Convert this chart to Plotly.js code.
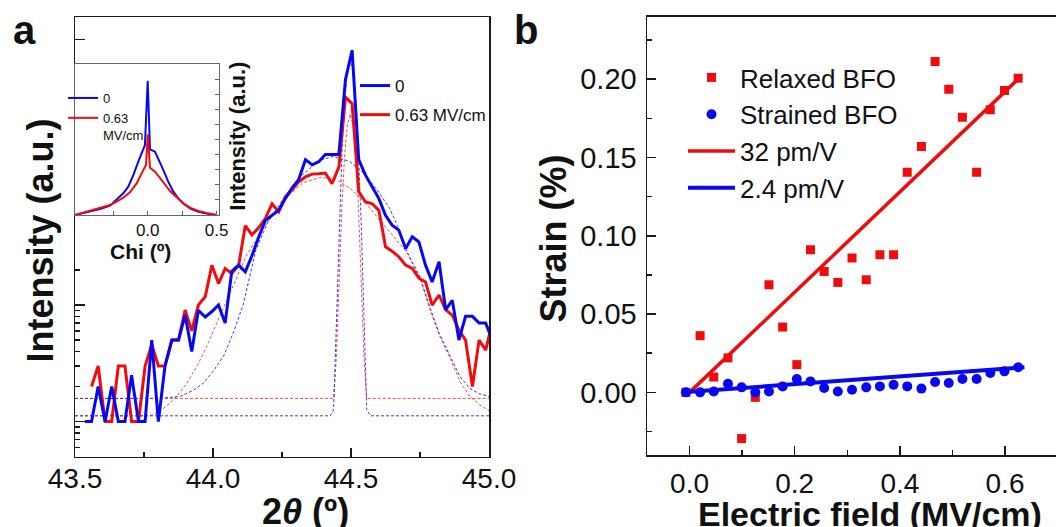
<!DOCTYPE html>
<html>
<head>
<meta charset="utf-8">
<script src="https://cdn.plot.ly/plotly-3.0.1.min.js"></script>
<style>html,body{margin:0;padding:0;background:#fff;}#chart{width:1056px;height:527px;}</style>
</head>
<body>
<div id="chart"></div>
<script>
// ---------- Panel a: 2theta scans (intensity, a.u.) ----------
const twoTheta = [43.536,43.560,43.584,43.609,43.633,43.657,43.681,43.705,43.730,43.754,43.778,43.802,43.826,43.851,43.875,43.899,43.923,43.947,43.972,43.996,44.020,44.044,44.068,44.093,44.117,44.141,44.165,44.189,44.214,44.238,44.262,44.286,44.310,44.335,44.359,44.383,44.407,44.431,44.456,44.480,44.504,44.528,44.552,44.577,44.601,44.625,44.649,44.673,44.698,44.722,44.746,44.770,44.794,44.819,44.843,44.867,44.891,44.915,44.940,44.964,44.988,45.012];
const int0 = [1,1,2,1,2,1,1,2.5,1,1,5,1,3,5,5,8.2,4,9,7.9,8.8,10,7,19.5,22,19.3,26.5,38,53,59,65,82,101,119,177,160,170,196,196,196,865,1540,177,131,103,82,59,48.5,44,30.6,38.5,34.8,22,15.8,23.5,9.1,11,5,8,8,7,7,5];
const int063 = [null,2,3,1,1,3,3,1,1,3,4.6,3,3,5,5,9.06,6,10,11.8,22,15.3,20.6,18.7,22,48,40,46,55,74,63,85,97,114,126,133,134,136,110,153,609,535,94,77,74,65,31.6,29,26,22,20.6,17,15.8,10,12.2,9.1,8.2,6.1,5,2,5,4.1,7];
// fitted components (dashed)
const fitBroad0X = [43.50,43.80,43.88,43.93,43.965,44.00,44.04,44.075,44.11,44.155,44.20,44.265,44.325,44.385,44.435,44.495,44.545,44.595,44.64,44.67,44.70,44.75,44.785,44.82,44.86,44.895,44.93,44.965,45.00];
const fitBroad0Y = [1.58,1.58,1.64,1.86,2.14,2.69,3.72,5.89,10.2,29.5,52.5,88.1,132,174,189,171,136,97.3,67.6,46.9,29.6,17.5,9.68,5.71,3.61,2.43,1.93,1.73,1.64];
const fitBroad063X = [43.50,43.77,43.796,43.832,43.868,43.905,43.941,43.977,44.013,44.05,44.086,44.122,44.19,44.264,44.325,44.386,44.44,44.495,44.544,44.58,44.63,44.67,44.70,44.75,44.785,44.82,44.86,44.895,44.931,44.967,45.00];
const fitBroad063Y = [1.12,1.12,1.18,1.36,1.64,2.13,2.96,4.40,6.97,11.0,17.5,26.9,48.4,82.4,112,124,122,101,79.4,63.1,45.7,35.5,28.8,17.0,9.33,5.50,3.47,2.20,1.64,1.39,1.24];
const fitNarrow0X = [43.50,44.425,44.437,44.447,44.457,44.467,44.477,44.487,44.497,44.507,44.517,44.527,44.537,44.547,44.557,44.57,45.00];
const fitNarrow0Y = [1.12,1.12,1.26,7.94,50.1,200,562,1023,1259,1023,562,200,50.1,7.94,1.26,1.12,1.12];
const fitNarrow063X = [43.50,44.437,44.447,44.457,44.467,44.477,44.487,44.497,44.507,44.517,44.527,44.537,44.547,44.557,45.00];
const fitNarrow063Y = [1.58,1.58,3.55,15.8,69.2,195,355,437,355,195,69.2,15.8,3.55,1.58,1.58];
const xTicksA = [43.5,44.0,44.5,45.0];
const xTickTextA = ['43.5','44.0','44.5','45.0'];

// ---------- Inset: chi scans ----------
const chi0 = [-0.527,-0.418,-0.346,-0.273,-0.225,-0.177,-0.141,-0.104,-0.068,-0.036,-0.02,0.0,0.017,0.053,0.089,0.113,0.149,0.186,0.222,0.258,0.307,0.367,0.428,0.5];
const chiInt0 = [0,0.22,0.4,0.62,1.0,1.44,1.88,2.65,3.54,4.36,4.64,8.9,4.36,4.2,3.54,2.99,2.21,1.55,1.1,0.77,0.44,0.22,0.09,0];
const chi063 = [-0.527,-0.418,-0.346,-0.273,-0.225,-0.177,-0.129,-0.08,-0.044,-0.012,0.0,0.017,0.053,0.089,0.125,0.162,0.21,0.258,0.307,0.367,0.428,0.5];
const chiInt063 = [0,0.27,0.49,0.66,0.88,1.15,1.5,2.1,2.76,3.32,5.35,3.14,2.87,2.48,2.04,1.59,1.15,0.77,0.49,0.27,0.13,0];

// ---------- Panel b: strain vs field ----------
const fieldRelaxed = [-0.007,0.020,0.046,0.073,0.099,0.125,0.151,0.177,0.204,0.230,0.256,0.282,0.309,0.336,0.362,0.388,0.414,0.441,0.467,0.493,0.519,0.546,0.572,0.599,0.625];
const strainRelaxed = [0.0,0.0362,0.0098,0.022,-0.0295,-0.0032,0.0687,0.0417,0.0177,0.0911,0.0772,0.0702,0.0858,0.0719,0.0879,0.0879,0.1406,0.157,0.2112,0.1936,0.1757,0.1406,0.1804,0.1927,0.2006];
const fieldStrained = [-0.007,0.020,0.046,0.073,0.099,0.125,0.151,0.177,0.204,0.230,0.256,0.282,0.309,0.336,0.362,0.388,0.414,0.441,0.467,0.493,0.519,0.546,0.572,0.599,0.625];
const strainStrained = [0.0,0.0,0.0006,0.0055,0.0032,0.0,0.0006,0.0038,0.0085,0.007,0.0028,0.0006,0.0017,0.0032,0.0038,0.0049,0.0038,0.0024,0.0066,0.006,0.0085,0.0085,0.0124,0.0134,0.016];
const fitRelaxedX = [0.0,0.63];
const fitRelaxedY = [0.0,0.2016];
const fitStrainedX = [-0.013,0.637];
const fitStrainedY = [0.0,0.016];

const BLUE = 'rgb(8,8,240)';
const RED = 'rgb(240,12,12)';
const FONT = 'Liberation Sans, Arial, sans-serif';
const W = 1056, H = 527;
const px = v => v / W;
const py = v => 1 - v / H;

const dashed = (x, y, color) => ({
  x, y, xaxis: 'x', yaxis: 'y', type: 'scatter', mode: 'lines',
  line: {color, width: 1, dash: '3px,2px'}, showlegend: false, hoverinfo: 'skip'
});

const traces = [
  dashed(fitBroad063X, fitBroad063Y, 'rgba(240,60,60,0.9)'),
  dashed(fitNarrow063X, fitNarrow063Y, 'rgba(240,60,60,0.9)'),
  dashed(fitBroad0X, fitBroad0Y, 'rgba(40,40,240,0.9)'),
  dashed(fitNarrow0X, fitNarrow0Y, 'rgba(40,40,240,0.9)'),
  {x: twoTheta, y: int063, xaxis: 'x', yaxis: 'y', type: 'scatter', mode: 'lines',
   name: '0.63 MV/cm', legend: 'legend2', legendrank: 2, legendgroup: 'a2',
   line: {color: RED, width: 3}},
  {x: twoTheta, y: int0, xaxis: 'x', yaxis: 'y', type: 'scatter', mode: 'lines',
   name: '0', legend: 'legend2', legendrank: 1, legendgroup: 'a1',
   line: {color: BLUE, width: 3}},
  // inset
  {x: chi0, y: chiInt0, xaxis: 'x3', yaxis: 'y3', type: 'scatter', mode: 'lines',
   name: '0', legend: 'legend3', legendrank: 1, line: {color: BLUE, width: 2}},
  {x: chi063, y: chiInt063, xaxis: 'x3', yaxis: 'y3', type: 'scatter', mode: 'lines',
   name: '0.63<br>MV/cm', legend: 'legend3', legendrank: 2, line: {color: RED, width: 2}},
  // panel b
  {x: fitRelaxedX, y: fitRelaxedY, xaxis: 'x2', yaxis: 'y2', type: 'scatter', mode: 'lines',
   name: '32 pm/V', legendrank: 3, line: {color: RED, width: 3.5}},
  {x: fitStrainedX, y: fitStrainedY, xaxis: 'x2', yaxis: 'y2', type: 'scatter', mode: 'lines',
   name: '2.4 pm/V', legendrank: 4, line: {color: BLUE, width: 4}},
  {x: fieldRelaxed, y: strainRelaxed, xaxis: 'x2', yaxis: 'y2', type: 'scatter', mode: 'markers',
   name: 'Relaxed BFO', legendrank: 1, marker: {symbol: 'square', size: 9, color: RED}},
  {x: fieldStrained, y: strainStrained, xaxis: 'x2', yaxis: 'y2', type: 'scatter', mode: 'markers',
   name: 'Strained BFO', legendrank: 2, marker: {symbol: 'circle', size: 10, color: BLUE}}
];

const axisBase = {
  showgrid: false, zeroline: false, showline: true, linecolor: '#1a1a1a', linewidth: 1.5,
  ticks: 'inside', tickcolor: '#1a1a1a', tickwidth: 1.5, ticklen: 9,
  tickfont: {family: FONT, size: 28, color: '#111'}
};

const layout = {
  width: W, height: H,
  margin: {l: 0, r: 0, t: 0, b: 0},
  paper_bgcolor: '#fff', plot_bgcolor: '#fff',
  font: {family: FONT, color: '#111'},
  xaxis: Object.assign({}, axisBase, {
    domain: [px(75), px(489)], anchor: 'y', range: [43.5, 45.0], mirror: true,
    tickmode: 'array', tickvals: xTicksA, ticktext: xTickTextA, ticklabelstandoff: -4,
    minor: {tickmode: 'array', tickvals: [43.75, 44.25, 44.75], ticks: 'inside', ticklen: 5, tickwidth: 1.5, tickcolor: '#1a1a1a'}
  }),
  yaxis: Object.assign({}, axisBase, {
    domain: [py(456.5), py(17.3)], anchor: 'x', type: 'log', range: [-0.30, 3.47], mirror: true,
    tickmode: 'array', tickvals: [1, 10, 1900], showticklabels: false, ticklen: 10,
    minor: {tickmode: 'array', tickvals: [0.6,0.7,0.8,0.9,2,3,4,5,6,7,8,9,20], ticks: 'inside', ticklen: 5, tickwidth: 1.5, tickcolor: '#1a1a1a'}
  }),
  xaxis2: Object.assign({}, axisBase, {
    domain: [px(647), 1], anchor: 'y2', range: [-0.081, 0.697], mirror: true,
    tickmode: 'linear', tick0: 0, dtick: 0.2, tickformat: '.1f', ticklabelstandoff: 3,
    minor: {dtick: 0.1, tick0: 0, ticks: 'inside', ticklen: 5, tickwidth: 1.5, tickcolor: '#1a1a1a'}
  }),
  yaxis2: Object.assign({}, axisBase, {
    domain: [py(455), py(16.5)], anchor: 'x2', range: [-0.04, 0.24], mirror: false,
    tickmode: 'linear', tick0: 0, dtick: 0.05, tickformat: '.2f', ticklabelstandoff: 3,
    tickfont: {family: FONT, size: 29, color: '#111'},
    minor: {dtick: 0.025, tick0: 0, ticks: 'inside', ticklen: 5, tickwidth: 1.5, tickcolor: '#1a1a1a'}
  }),
  xaxis3: {
    domain: [px(75), px(219)], anchor: 'y3', range: [-0.527, 0.517],
    showgrid: false, zeroline: false, showline: true, mirror: true, linecolor: '#666', linewidth: 1,
    ticks: 'inside', ticklen: 4, tickcolor: '#666', tickwidth: 1,
    tickmode: 'array', tickvals: [-0.25, 0, 0.25, 0.5], ticktext: ['', '0.0', '', '0.5'],
    tickfont: {family: FONT, size: 17, color: '#111'}
  },
  yaxis3: {
    domain: [py(215), py(64.3)], anchor: 'x3', range: [0, 10], side: 'right',
    showgrid: false, zeroline: false, showline: true, mirror: true, linecolor: '#666', linewidth: 1,
    ticks: 'inside', ticklen: 4, tickcolor: '#666', tickwidth: 1, dtick: 1,
    showticklabels: false
  },
  legend: {
    x: px(683), y: py(54), xanchor: 'left', yanchor: 'top', bgcolor: 'rgba(0,0,0,0)',
    font: {family: FONT, size: 26, color: '#111'}, itemwidth: 47, tracegroupgap: 0
  },
  legend2: {
    x: px(355), y: py(68), xanchor: 'left', yanchor: 'top', bgcolor: 'rgba(0,0,0,0)',
    font: {family: 'Liberation Sans Narrow, Arial Narrow, Liberation Sans, Arial', size: 17, color: '#111'},
    itemwidth: 30, traceorder: 'grouped', tracegroupgap: 4
  },
  legend3: {
    x: px(63), y: py(83), xanchor: 'left', yanchor: 'top', bgcolor: 'rgba(0,0,0,0)',
    font: {family: FONT, size: 13, color: '#111'}, itemwidth: 30, valign: 'top', tracegroupgap: 0
  },
  annotations: [
    {text: '<b>a</b>', x: px(24), y: py(30), xref: 'paper', yref: 'paper', showarrow: false,
     font: {family: FONT, size: 40, color: '#111'}, xanchor: 'center', yanchor: 'middle'},
    {text: '<b>b</b>', x: px(526), y: py(30), xref: 'paper', yref: 'paper', showarrow: false,
     font: {family: FONT, size: 40, color: '#111'}, xanchor: 'center', yanchor: 'middle'},
    {text: '<b>Intensity (a.u.)</b>', x: px(40.6), y: py(241), xref: 'paper', yref: 'paper', showarrow: false,
     textangle: -90, font: {family: FONT, size: 36, color: '#111'}, xanchor: 'center', yanchor: 'middle'},
    {text: '<b>2<i>θ</i> (º)</b>', x: px(305), y: py(511), xref: 'paper', yref: 'paper', showarrow: false,
     font: {family: FONT, size: 36, color: '#111'}, xanchor: 'center', yanchor: 'middle'},
    {text: '<b>Strain (%)</b>', x: px(552.5), y: py(239), xref: 'paper', yref: 'paper', showarrow: false,
     textangle: -90, font: {family: FONT, size: 36, color: '#111'}, xanchor: 'center', yanchor: 'middle'},
    {text: '<b>Electric field (MV/cm)</b>', x: px(870), y: py(514), xref: 'paper', yref: 'paper', showarrow: false,
     font: {family: FONT, size: 34, color: '#111'}, xanchor: 'center', yanchor: 'middle'},
    {text: '<b>Intensity (a.u.)</b>', x: px(236.7), y: py(136), xref: 'paper', yref: 'paper', showarrow: false,
     textangle: -90, font: {family: FONT, size: 22, color: '#111'}, xanchor: 'center', yanchor: 'middle'},
    {text: '<b>Chi (º)</b>', x: px(140), y: py(251), xref: 'paper', yref: 'paper', showarrow: false,
     font: {family: FONT, size: 21, color: '#111'}, xanchor: 'center', yanchor: 'middle'}
  ],
  showlegend: true
};

Plotly.newPlot('chart', traces, layout, {displayModeBar: false, staticPlot: true});
</script>
</body>
</html>
